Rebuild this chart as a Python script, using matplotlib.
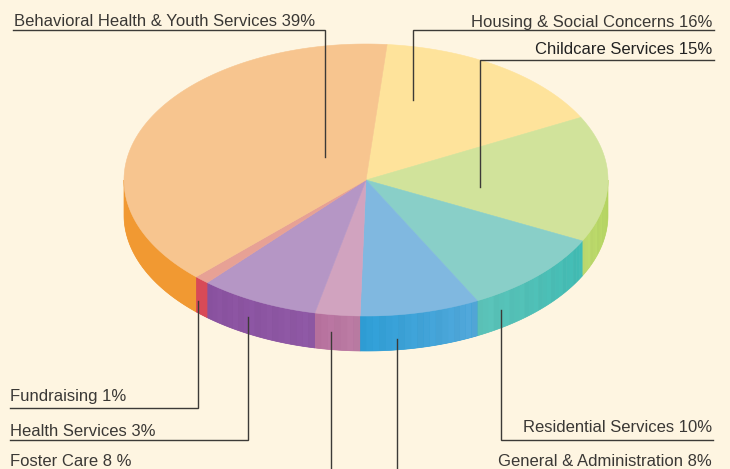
import numpy as np
import matplotlib
matplotlib.use("Agg")
import matplotlib.pyplot as plt
from matplotlib.patches import Polygon
from matplotlib.colors import to_rgb

# ---------------- data ----------------
slice_labels = [
    "Housing & Social Concerns 16%",
    "Childcare Services 15%",
    "Residential Services 10%",
    "General & Administration 8%",
    "Foster Care 8 %",
    "Health Services 3%",
    "Fundraising 1%",
    "Behavioral Health & Youth Services 39%",
]
values = [16, 15, 10, 8, 3, 8, 1, 39]
top_colors = ["#FEE39B", "#D1E39B", "#89CFC8", "#80B8E0",
              "#D1A3BF", "#B596C5", "#E7A195", "#F7C58F"]
# side colours: left end -> right end
side_colors_a = ["#F5D27A", "#BCD96E", "#5BC2B8", "#2F9ED6",
                 "#B7719E", "#8A52A0", "#D84A57", "#F19932"]
side_colors_b = ["#F5D27A", "#B2D35C", "#40BBB3", "#52A7D9",
                 "#BA7BA3", "#8E58A4", "#D84A57", "#F19932"]
stripe_amp = [0, 0.012, 0.012, 0.012, 0.012, 0.012, 0.0, 0.0]

# ---------------- layout ----------------
W, H, DPI = 730, 469, 100
CX, CY, RX, RY, DEPTH = 366, 180, 242, 136, 35
START = 85.0  # degrees, slices run clockwise
BG = "#FEF5E1"
TXT = "#3a3835"
LINE = "#3c3a37"

fig = plt.figure(figsize=(W / DPI, H / DPI), dpi=DPI)
fig.patch.set_facecolor(BG)
ax = fig.add_axes([0, 0, 1, 1])
ax.set_xlim(0, W)
ax.set_ylim(H, 0)
ax.axis("off")
ax.set_facecolor(BG)

fracs = np.array(values, dtype=float) / np.sum(values)
bounds = START - np.concatenate([[0], np.cumsum(fracs) * 360.0])


def ell(t_deg, dy=0.0):
    t = np.radians(t_deg)
    return CX + RX * np.cos(t), CY - RY * np.sin(t) + dy


# sides (front half: angle in [-180, 0])
for i in range(len(values)):
    a1, a2 = bounds[i], bounds[i + 1]  # a1 > a2
    lo, hi = max(a2, -180.0), min(a1, 0.0)
    if hi <= lo:
        continue
    tt = np.linspace(lo, hi, 60)
    xt, yt = ell(tt)
    xb, yb = ell(tt[::-1], DEPTH)
    poly = np.column_stack([np.concatenate([xt, xb]), np.concatenate([yt, yb])])
    ax.add_patch(Polygon(poly, closed=True, facecolor=side_colors_a[i],
                         edgecolor=side_colors_a[i], linewidth=0.5, zorder=1))
    n = max(2, int((hi - lo) / 1.5))
    ts = np.linspace(lo, hi, n + 1)  # left -> right
    ca, cb = np.array(to_rgb(side_colors_a[i])), np.array(to_rgb(side_colors_b[i]))
    for k in range(n):
        f = k / max(1, n - 1)
        col = ca * (1 - f) + cb * f
        col = np.clip(col * (1.0 + stripe_amp[i] * ((k % 3) - 1)), 0, 1)
        tt = np.linspace(ts[k], ts[k + 1], 3)
        xt, yt = ell(tt)
        xb, yb = ell(tt[::-1], DEPTH)
        poly = np.column_stack([np.concatenate([xt, xb]), np.concatenate([yt, yb])])
        ax.add_patch(Polygon(poly, closed=True, facecolor=col, edgecolor="none",
                             linewidth=0, zorder=1.5))

# top faces
for i in range(len(values)):
    a1, a2 = bounds[i], bounds[i + 1]
    ts = np.linspace(a1, a2, max(3, int((a1 - a2) * 2)))
    xs, ys = ell(ts)
    poly = np.column_stack([np.concatenate([[CX], xs]), np.concatenate([[CY], ys])])
    ax.add_patch(Polygon(poly, closed=True, facecolor=top_colors[i],
                         edgecolor=top_colors[i], linewidth=0.4, zorder=2))

# ---------------- labels & leader lines ----------------
# (text x, text baseline y, ha, horizontal line y or None, line x0, vertical x, vertical end y)
label_layout = {
    "Behavioral Health & Youth Services 39%": (14, 26.5, "left", 30, 13, 325, 157),
    "Housing & Social Concerns 16%": (712, 26.5, "right", 30, 714, 413, 100),
    "Childcare Services 15%": (712, 54.5, "right", 60, 714, 480, 187),
    "Fundraising 1%": (10, 401.5, "left", 408.5, 10, 198, 301),
    "Health Services 3%": (10, 435.5, "left", 440.5, 10, 248, 317),
    "Foster Care 8 %": (10, 465.5, "left", None, None, 331, 332),
    "Residential Services 10%": (712, 432, "right", 440, 713, 501, 310),
    "General & Administration 8%": (712, 465.5, "right", None, None, 397, 339),
}

for lab in slice_labels:
    tx, ty, ha, hy, hx0, vx, vy = label_layout[lab]
    col = "#222222" if lab.startswith("Childcare") else TXT
    ax.text(tx, ty, lab, ha=ha, va="baseline", fontsize=12, color=col,
            family=["Liberation Sans", "DejaVu Sans"], zorder=5)
    if hy is not None:
        ax.plot([hx0, vx, vx], [hy, hy, vy], color=LINE, lw=1.0,
                solid_joinstyle="miter", zorder=4)
    else:
        ax.plot([vx, vx], [H + 2, vy], color=LINE, lw=1.0, zorder=4)

fig.savefig("out.png", dpi=DPI, facecolor=BG)
